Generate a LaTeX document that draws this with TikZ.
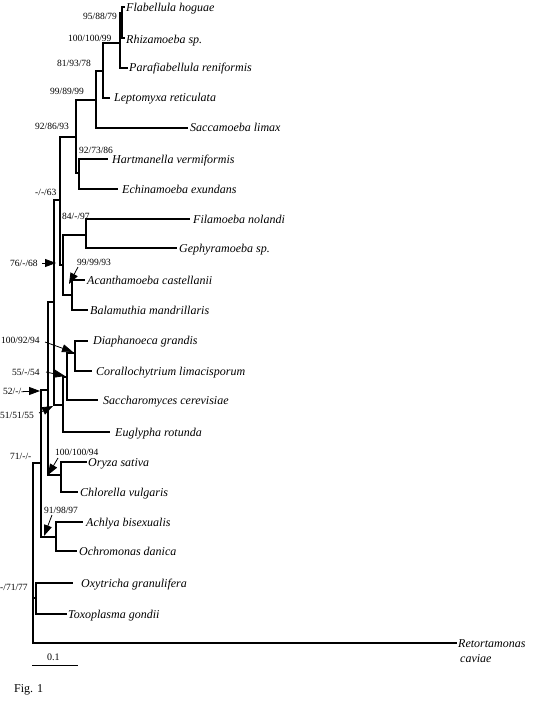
\documentclass[tikz,border=0pt]{standalone}
\usepackage{fontspec}
\setmainfont{Liberation Serif}
\usetikzlibrary{arrows.meta}
\begin{document}
\begin{tikzpicture}[x=1pt,y=-1pt,
 br/.style={line width=2pt},
 sp/.style={font=\fontsize{12}{12}\selectfont\itshape, anchor=west, inner sep=0pt, text height=9pt, text depth=1pt},
 bs/.style={font=\fontsize{9.5}{9.5}\selectfont, anchor=west, inner sep=0pt, text height=7pt, text depth=0pt},
 ar/.style={line width=0.8pt, -{Triangle[length=11pt,width=8pt]}},
 plain/.style={font=\fontsize{12}{12}\selectfont, anchor=west, inner sep=0pt, text height=9pt, text depth=1pt}]
\useasboundingbox (0,0) rectangle (541,705);
\fill[white] (0,0) rectangle (541,705);

% internal nodes
\coordinate (root) at (33,553);
\coordinate (n12) at (41,463);
\coordinate (nOT) at (36,598);
\coordinate (n11) at (48,390);
\coordinate (nAO) at (56,537);
\coordinate (n8) at (54,302);
\coordinate (nOC) at (61,475);
\coordinate (n6) at (60,200);
\coordinate (n10) at (63,405);
\coordinate (n9) at (67,377);
\coordinate (nDC) at (75,353);
\coordinate (n5) at (76,137);
\coordinate (n7) at (63,265);
\coordinate (nFG) at (86,235);
\coordinate (nAB) at (72,295);
\coordinate (n4) at (96,100);
\coordinate (nHE) at (79,173);
\coordinate (n3) at (103,71);
\coordinate (nFRP) at (120,43);
\coordinate (nFR) at (122,13);

% tips
\coordinate (tflab) at (125,7);
\coordinate (trhiz) at (125,38);
\coordinate (tpara) at (128,68);
\coordinate (tlept) at (110,98);
\coordinate (tsacc) at (188,128);
\coordinate (thart) at (108,159);
\coordinate (techi) at (118,189);
\coordinate (tfila) at (190,219);
\coordinate (tgeph) at (177,248);
\coordinate (tacan) at (85,280);
\coordinate (tbala) at (88,310);
\coordinate (tdiap) at (88,341);
\coordinate (tcora) at (92,371);
\coordinate (tscer) at (98,400);
\coordinate (teugl) at (110,432);
\coordinate (toryz) at (87,462);
\coordinate (tchlo) at (78,492);
\coordinate (tachl) at (83,522);
\coordinate (tochr) at (77,551);
\coordinate (toxyt) at (73,583);
\coordinate (ttoxo) at (67,614);
\coordinate (tretr) at (457,643);

% branches
\draw[br] (nFR) |- (tflab);
\draw[br] (nFR) |- (trhiz);
\draw[br] (nFRP) |- (nFR);
\draw[br] (nFRP) |- (tpara);
\draw[br] (n3) |- (nFRP);
\draw[br] (n3) |- (tlept);
\draw[br] (n4) |- (n3);
\draw[br] (n4) |- (tsacc);
\draw[br] (nHE) |- (thart);
\draw[br] (nHE) |- (techi);
\draw[br] (n5) |- (n4);
\draw[br] (n5) |- (nHE);
\draw[br] (nFG) |- (tfila);
\draw[br] (nFG) |- (tgeph);
\draw[br] (nAB) |- (tacan);
\draw[br] (nAB) |- (tbala);
\draw[br] (n7) |- (nFG);
\draw[br] (n7) |- (nAB);
\draw[br] (n6) |- (n5);
\draw[br] (n6) |- (n7);
\draw[br] (nDC) |- (tdiap);
\draw[br] (nDC) |- (tcora);
\draw[br] (n9) |- (nDC);
\draw[br] (n9) |- (tscer);
\draw[br] (n10) |- (n9);
\draw[br] (n10) |- (teugl);
\draw[br] (n8) |- (n6);
\draw[br] (n8) |- (n10);
\draw[br] (nOC) |- (toryz);
\draw[br] (nOC) |- (tchlo);
\draw[br] (n11) |- (n8);
\draw[br] (n11) |- (nOC);
\draw[br] (nAO) |- (tachl);
\draw[br] (nAO) |- (tochr);
\draw[br] (n12) |- (n11);
\draw[br] (n12) |- (nAO);
\draw[br] (nOT) |- (toxyt);
\draw[br] (nOT) |- (ttoxo);
\draw[br] (root) |- (n12);
\draw[br] (root) |- (nOT);
\draw[br] (root) |- (tretr);

% species names
\node[sp] (lflab) at (126,7) {Flabellula hoguae};
\node[sp] (lrhiz) at (126,39) {Rhizamoeba sp.};
\node[sp] (lpara) at (129,67) {Parafiabellula reniformis};
\node[sp] (llept) at (114,97) {Leptomyxa reticulata};
\node[sp] (lsacc) at (190,127) {Saccamoeba limax};
\node[sp] (lhart) at (112,159) {Hartmanella vermiformis};
\node[sp] (lechi) at (122,189) {Echinamoeba exundans};
\node[sp] (lfila) at (193,219) {Filamoeba nolandi};
\node[sp] (lgeph) at (179,248) {Gephyramoeba sp.};
\node[sp] (lacan) at (87,280) {Acanthamoeba castellanii};
\node[sp] (lbala) at (90,310) {Balamuthia mandrillaris};
\node[sp] (ldiap) at (93,340) {Diaphanoeca grandis};
\node[sp] (lcora) at (96,371) {Corallochytrium limacisporum};
\node[sp] (lscer) at (103,400) {Saccharomyces cerevisiae};
\node[sp] (leugl) at (115,432) {Euglypha rotunda};
\node[sp] (loryz) at (88,462) {Oryza sativa};
\node[sp] (lchlo) at (80,492) {Chlorella vulgaris};
\node[sp] (lachl) at (86,522) {Achlya bisexualis};
\node[sp] (lochr) at (79,551) {Ochromonas danica};
\node[sp] (loxyt) at (81,583) {Oxytricha granulifera};
\node[sp] (ltoxo) at (68,614) {Toxoplasma gondii};
\node[sp] (lretr) at (458,643) {Retortamonas};
\node[sp] (lretr2) at (460,658) {caviae};

% support values
\node[bs] (b1) at (83,16) {95/88/79};
\node[bs] (b2) at (68,38) {100/100/99};
\node[bs] (b3) at (57,63) {81/93/78};
\node[bs] (b4) at (50,91) {99/89/99};
\node[bs] (b5) at (35,126) {92/86/93};
\node[bs] (b6) at (79,150) {92/73/86};
\node[bs] (b7) at (35,192) {-/-/63};
\node[bs] (b8) at (62,216) {84/-/97};
\node[bs] (b9) at (10,263) {76/-/68};
\node[bs] (b10) at (77,262) {99/99/93};
\node[bs] (b11) at (1,340) {100/92/94};
\node[bs] (b12) at (12,372) {55/-/54};
\node[bs] (b13) at (3,391) {52/-/-};
\node[bs] (b14) at (0,415) {51/51/55};
\node[bs] (b15) at (10,456) {71/-/-};
\node[bs] (b16) at (55,452) {100/100/94};
\node[bs] (b17) at (44,510) {91/98/97};
\node[bs] (b18) at (0,587) {-/71/77};

% arrows
\coordinate (s9) at (42,263);   \coordinate (a9) at (56,263);
\coordinate (s10) at (78,267);  \coordinate (a10) at (69,284);
\coordinate (s11) at (45,342);  \coordinate (a11) at (73,352);
\coordinate (s12) at (46,372);  \coordinate (a12) at (65,376);
\coordinate (s13) at (23,391);  \coordinate (a13) at (40,391);
\coordinate (s14) at (39,413);  \coordinate (a14) at (53,406);
\coordinate (s16) at (58,458);  \coordinate (a16) at (48,475);
\coordinate (s17) at (52,515);  \coordinate (a17) at (44,536);
\draw[ar] (s9) -- (a9);
\draw[ar] (s10) -- (a10);
\draw[ar] (s11) -- (a11);
\draw[ar] (s12) -- (a12);
\draw[ar] (s13) -- (a13);
\draw[ar] (s14) -- (a14);
\draw[ar] (s16) -- (a16);
\draw[ar] (s17) -- (a17);

% scale bar
\coordinate (sb1) at (32,665);
\coordinate (sb2) at (78,665);
\draw[line width=1pt] (sb1) -- (sb2);
\node[bs, font=\fontsize{10}{10}\selectfont] (sbl) at (47,657) {0.1};

\node[plain] (fig) at (14,688) {Fig. 1};
\end{tikzpicture}
\end{document}
